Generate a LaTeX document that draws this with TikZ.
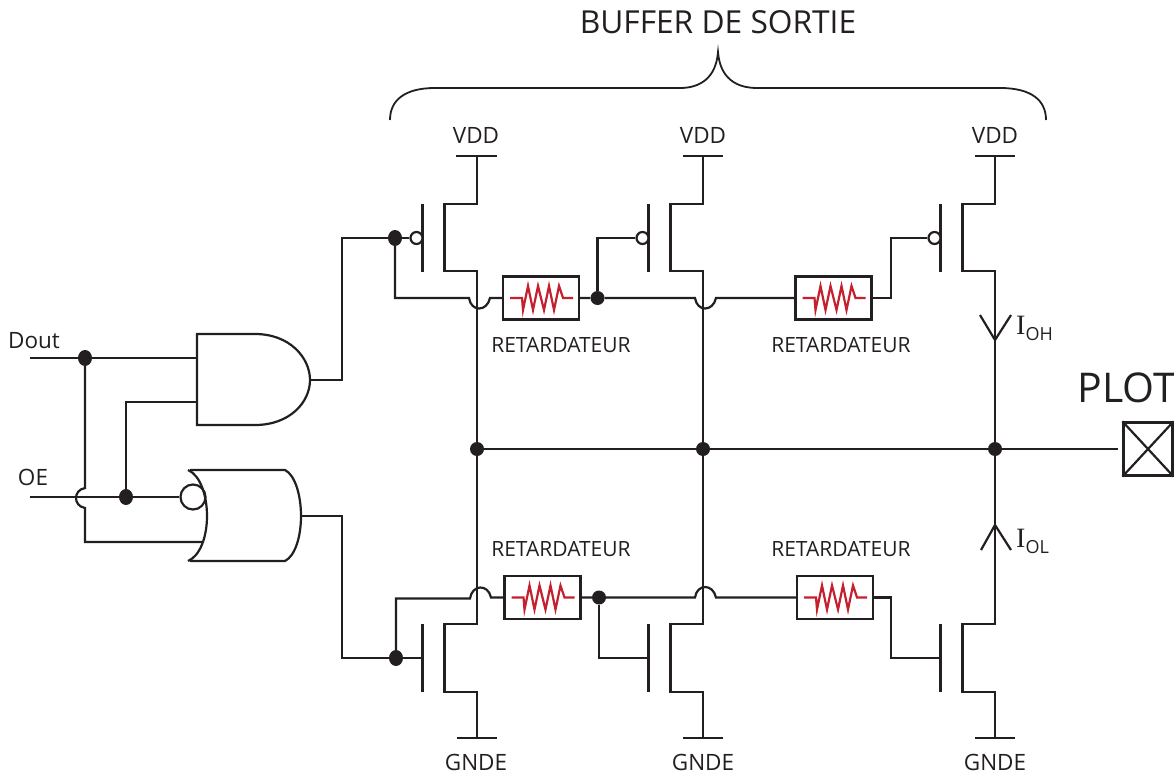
\documentclass[tikz,border=0pt]{standalone}
\usepackage{fontspec}
\setmainfont{Open Sans}
\newfontfamily\serifI{Liberation Serif}
\usetikzlibrary{shapes.geometric}
\definecolor{inkline}{HTML}{231F20}
\definecolor{zigred}{HTML}{C4202E}
\newcommand{\currlabel}[1]{{\serifI\fontsize{28}{28}\selectfont I}{\fontsize{18}{18}\selectfont\raisebox{-6pt}{#1}}}
\tikzset{
	wire/.style={draw=inkline,line width=2.2pt,line join=miter},
	gateline/.style={draw=inkline,line width=2.2pt},
	dotnode/.style={circle,fill=inkline,inner sep=0pt,minimum size=14pt},
	dotoval/.style={ellipse,fill=inkline,inner sep=0pt,minimum width=14pt,minimum height=16pt},
	bubble/.style={circle,draw=inkline,line width=2.2pt,fill=white,inner sep=0pt,minimum size=12pt},
	delaybox/.style={rectangle,draw=inkline,line width=2.2pt,fill=white,inner sep=0pt,minimum width=76pt,minimum height=43pt},
	zigzag/.style={draw=zigred,line width=2.2pt,line join=miter},
	txt/.style={inner sep=0pt,text=inkline,font=\fontsize{21}{25}\selectfont},
	pinlabel/.style={txt,font=\fontsize{22.5}{24}\selectfont},
}
\begin{document}
\begin{tikzpicture}[x=1pt,y=-1pt]
	\useasboundingbox (0,0) rectangle (1174,773);
	\pgfmathsetmacro{\chan}{-32.5}
	\pgfmathsetmacro{\gatex}{-54.5}
	% rail
	\node[dotnode] (juna) at (477,449) {};
	\node[dotnode] (junb) at (703,449) {};
	\node[dotnode] (junc) at (995,449) {};
	\node[rectangle,draw=inkline,line width=2.2pt,inner sep=0pt,minimum width=49pt,minimum height=53pt] (plot) at (1148,449) {};
	\draw[wire] (juna) -- (junb) -- (junc);
	\draw[wire,shorten >=4pt] (junc) -- (plot.west);
	\draw[wire] (plot.north west) -- (plot.south east);
	\draw[wire] (plot.south west) -- (plot.north east);
	\node[txt,font=\fontsize{41}{48}\selectfont] (plotlabel) at (1127,388) {PLOT};
	% columns
	\begin{scope}
		\coordinate (vdda) at (477,156);
		\coordinate (gnda) at (477,738);
		\draw[wire] ([xshift=-21pt]vdda) -- ([xshift=20pt]vdda);
		\draw[wire] ([xshift=-20pt]gnda) -- ([xshift=20pt]gnda);
		\draw[wire] (vdda) -- ++(0,48) -- ++(\chan,0) -- ++(0,67) -- ++(-\chan,0) -- (juna);
		\draw[wire] (juna) -- ++(0,175) -- ++(\chan,0) -- ++(0,68) -- ++(-\chan,0) -- (gnda);
		\draw[gateline] (\gatex+477,204) -- (\gatex+477,272);
		\draw[gateline] (\gatex+477,624) -- (\gatex+477,692);
		\node[bubble] (buba) at (\gatex+471,238) {};
		\coordinate (gatela) at (\gatex+477,658);
		\node[pinlabel] (vddlabela) at (476,135) {VDD};
		\node[pinlabel] (gndlabela) at (476,762) {GNDE};
	\end{scope}
	\begin{scope}
		\coordinate (vddb) at (703,156);
		\coordinate (gndb) at (703,738);
		\draw[wire] ([xshift=-20pt]vddb) -- ([xshift=20pt]vddb);
		\draw[wire] ([xshift=-20pt]gndb) -- ([xshift=20pt]gndb);
		\draw[wire] (vddb) -- ++(0,48) -- ++(\chan,0) -- ++(0,67) -- ++(-\chan,0) -- (junb);
		\draw[wire] (junb) -- ++(0,175) -- ++(\chan,0) -- ++(0,68) -- ++(-\chan,0) -- (gndb);
		\draw[gateline] (\gatex+703,204) -- (\gatex+703,272);
		\draw[gateline] (\gatex+703,624) -- (\gatex+703,692);
		\node[bubble] (bubb) at (\gatex+697,238) {};
		\coordinate (gatelb) at (\gatex+703,658);
		\node[pinlabel] (vddlabelb) at (703,135) {VDD};
		\node[pinlabel] (gndlabelb) at (703,762) {GNDE};
	\end{scope}
	\begin{scope}
		\coordinate (vddc) at (995,156);
		\coordinate (gndc) at (995,738);
		\draw[wire] ([xshift=-20pt]vddc) -- ([xshift=20pt]vddc);
		\draw[wire] ([xshift=-20pt]gndc) -- ([xshift=20pt]gndc);
		\draw[wire] (vddc) -- ++(0,48) -- ++(\chan,0) -- ++(0,67) -- ++(-\chan,0) -- (junc);
		\draw[wire] (junc) -- ++(0,175) -- ++(\chan,0) -- ++(0,68) -- ++(-\chan,0) -- (gndc);
		\draw[gateline] (\gatex+995,204) -- (\gatex+995,272);
		\draw[gateline] (\gatex+995,624) -- (\gatex+995,692);
		\node[bubble] (bubc) at (\gatex+989,238) {};
		\coordinate (gatelc) at (\gatex+995,658);
		\node[pinlabel] (vddlabelc) at (995,135) {VDD};
		\node[pinlabel] (gndlabelc) at (995,762) {GNDE};
	\end{scope}
	% delay boxes
	\node[delaybox] (rta) at (541,298) {};
	\node[delaybox] (rtb) at (833.5,298) {};
	\node[delaybox] (rtc) at (542.5,597.5) {};
	\node[delaybox] (rtd) at (835,597.5) {};
	\foreach \n in {rta,rtb,rtc,rtd}{
		\begin{scope}[shift={(\n.center)}]
			\draw[zigzag] (-31,0) -- (-19,0) -- (-18,12) -- (-13,-12) -- (-8,12) -- (-3,-12) -- (3,12) -- (8,-12) -- (13,12) -- (18,-12) -- (22,0) -- (32,0);
		\end{scope}
	}
	\node[txt] (rtlabela) at (561,345) {RETARDATEUR};
	\node[txt] (rtlabelb) at (841,345) {RETARDATEUR};
	\node[txt] (rtlabelc) at (561,549) {RETARDATEUR};
	\node[txt] (rtlabeld) at (841,549) {RETARDATEUR};
	% upper delay line
	\node[dotoval] (gdota) at (395,238) {};
	\node[dotnode] (gdotb) at (597.5,298) {};
	\coordinate (hopal) at (469,298);
	\coordinate (hopar) at (490,298);
	\coordinate (hopbl) at (695,298);
	\coordinate (hopbr) at (716,298);
	\draw[wire] (gdota) -- (buba.west);
	\draw[wire] (gdota) |- (hopal) .. controls +(2,14) and +(-3,14) .. (hopar) -- (rta.west);
	\draw[wire] (rta.east) -- (gdotb) -- (hopbl) .. controls +(2,14) and +(-3,14) .. (hopbr) -- (rtb.west);
	\draw[wire] (gdotb) |- (bubb.west);
	\draw[wire] (rtb.east) -- ++(18,0) |- (bubc.west);
	% lower delay line
	\node[dotoval] (ndota) at (396,658) {};
	\node[dotnode] (ndotb) at (599,597.5) {};
	\coordinate (hopcl) at (470,598.5);
	\coordinate (hopcr) at (491,597.5);
	\coordinate (hopdl) at (695,597.5);
	\coordinate (hopdr) at (716,597.5);
	\draw[wire] (ndota) -- (gatela);
	\draw[wire] (ndota) |- (hopcl) .. controls +(2,-14) and +(-3,-14) .. (hopcr) -- (rtc.west);
	\draw[wire] (rtc.east) -- (ndotb) -- (hopdl) .. controls +(2,-14) and +(-3,-14) .. (hopdr) -- (rtd.west);
	\draw[wire] (ndotb) |- (gatelb);
	\draw[wire] (rtd.east) -- ++(17,0) |- (gatelc);
	% currents
	\coordinate (iohtip) at (995,340);
	\coordinate (ioltip) at (995,525);
	\draw[wire] (980,315) -- (iohtip) -- (1011,315);
	\draw[wire] (981,550) -- (ioltip) -- (1011,550);
	\node[txt,anchor=west] (iohlabel) at (1016,328) {\currlabel{OH}};
	\node[txt,anchor=west] (iollabel) at (1016,541) {\currlabel{OL}};
	% gates
	\coordinate (andin) at (197,358);
	\coordinate (andib) at (197,402);
	\coordinate (andout) at (310,380);
	\coordinate (orin) at (203,542);
	\coordinate (orout) at (301,516);
	\draw[wire] (197,334) -- (255,334) .. controls (290,334) and (310,358) .. (andout) .. controls (310,402) and (290,425) .. (255,425) -- (197,425) -- cycle;
	\draw[wire] (188,470) .. controls (200,475) and (207,495) .. (207,516) .. controls (207,537) and (200,556) .. (188,561);
	\draw[wire] (190,470) -- (285,470) .. controls (295,475) and (301,495) .. (orout) .. controls (301,537) and (295,556) .. (285,561) -- (190,561);
	\node[bubble,minimum size=25pt,fill=none] (orbub) at (193,497) {};
	% inputs
	\coordinate (doutin) at (30,358);
	\coordinate (oein) at (30,497);
	\node[dotoval] (doutdot) at (85,358) {};
	\node[dotoval] (oedot) at (126,497) {};
	\draw[wire] (doutin) -- (doutdot) -- (andin);
	\draw[wire] (oein) -- (oedot) -- (orbub.west);
	\draw[wire] (oedot) |- (andib);
	\coordinate (hopet) at (85,488);
	\coordinate (hopeb) at (85,508);
	\draw[wire] (doutdot) -- (hopet) .. controls +(-12,2) and +(-12,-2) .. (hopeb) |- (orin);
	\node[pinlabel] (doutlabel) at (34,341) {Dout};
	\node[pinlabel] (oelabel) at (33,477) {OE};
	\draw[wire] (andout) -- ++(32,0) |- (gdota);
	\draw[wire] (orout) -- ++(41,0) |- (ndota);
	% brace
	\coordinate (bracel) at (390,120);
	\coordinate (bracem) at (718,52);
	\coordinate (bracer) at (1046,120);
	\draw[wire,line width=1.8pt] (bracel) .. controls (390,100) and (405,88) .. (435,88) -- (680,88) .. controls (700,88) and (716,78) .. (bracem) .. controls (720,78) and (736,88) .. (757,88) -- (1000,88) .. controls (1031,88) and (1046,100) .. (bracer);
	\node[txt,font=\fontsize{31.7}{38}\selectfont] (bufferlabel) at (718,22) {BUFFER DE SORTIE};
\end{tikzpicture}
\end{document}
